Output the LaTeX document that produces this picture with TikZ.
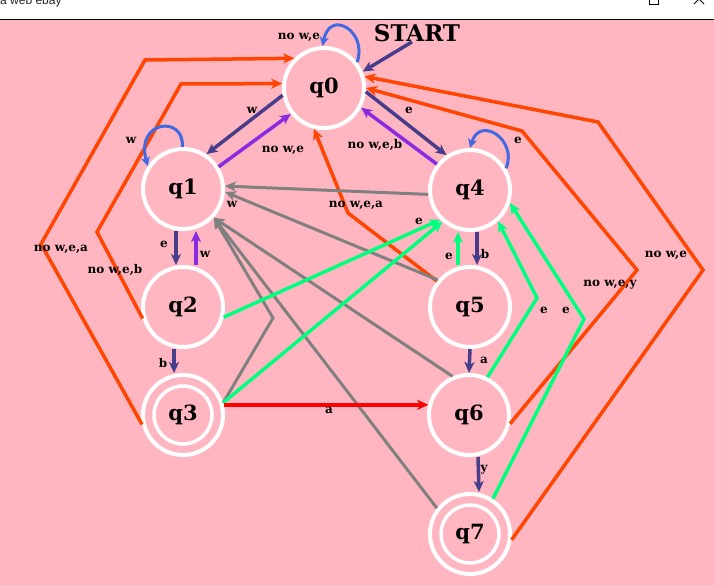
\documentclass[tikz,border=0pt]{standalone}
\usepackage{fontspec}
\setmainfont{DejaVu Serif}
\newfontfamily\titlefont{Liberation Sans}
\usetikzlibrary{arrows.meta}
\definecolor{bgpink}{HTML}{FFB6C1}
\definecolor{orr}{HTML}{FF4500}
\definecolor{dsb}{HTML}{483D8B}
\definecolor{bv}{HTML}{8A2BE2}
\definecolor{rb}{HTML}{4169E1}
\definecolor{sg}{HTML}{00FF7F}
\definecolor{gr}{HTML}{808080}
\definecolor{rd}{HTML}{FF0000}
\tikzset{
  state/.style={circle, draw=white, line width=4pt, minimum size=80pt, inner sep=0pt,
    font=\bfseries\fontsize{21}{21}\selectfont},
  lbl/.style={font=\bfseries\fontsize{12}{12}\selectfont, inner sep=0pt, text=black},
  tip/.style={-{Stealth[length=11pt,width=10pt,inset=3pt]}},
  darr/.style={tip, dsb, line width=3.5pt},
  varr/.style={tip, bv, line width=3.5pt},
  oarr/.style={tip, orr, line width=3.5pt, line join=miter},
  garr/.style={tip, sg, line width=3.5pt, line join=miter},
  gyarr/.style={tip, gr, line width=3pt, line join=miter},
  rarr/.style={tip, rd, line width=3.5pt},
  larr/.style={-{Stealth[length=9pt,width=9pt,inset=2.5pt]}, rb, line width=3pt},
}
\begin{document}
\begin{tikzpicture}[x=1pt,y=-1pt]
\useasboundingbox (0,0) rectangle (714,585);
\clip (0,0) rectangle (714,585);
% window frame
\fill[white] (0,0) rectangle (714,19);
\fill[bgpink] (0,19) rectangle (714,585);
\draw[black, line width=1pt] (0,19.5) -- (714,19.5);
\node[anchor=base west, inner sep=0pt, font=\titlefont\fontsize{12}{12}\selectfont, text=black!85] (title) at (0,5) {a web ebay};
\draw[black, line width=0.8pt] (649,-6) rectangle (658,4);
\draw[black, line width=0.8pt] (694,-6) -- (704,4) (704,-6) -- (694,4);

% states
\node[state] (q0) at (324,88) {q0};
\node[state] (q1) at (183,189) {q1};
\node[state] (q2) at (183,307) {q2};
\node[state] (q3) at (183,415) {q3};
\node[state] (q4) at (470,190) {q4};
\node[state] (q5) at (470,307) {q5};
\node[state] (q6) at (469,415) {q6};
\node[state] (q7) at (470,534) {q7};
\draw[white, line width=3.5pt] (q3.center) circle[radius=29pt];
\draw[white, line width=3.5pt] (q7.center) circle[radius=29pt];
\node[font=\bfseries\fontsize{23}{23}\selectfont, inner sep=0pt] (start) at (417,33) {START};

% start arrow
\draw[darr] ([xshift=-5pt]start.south) -- (q0.23);

% orange edges
\draw[oarr] (q3.193) -- (41,244) -- (145,60) -- (q0.135);
\draw[oarr] (q2.196) -- (97,232) -- (181,84) -- (q0.174);
\draw[oarr] (q5.142) -- (348,213) -- (q0.256);
\draw[oarr] (q6.-12) -- (637,270) -- (522,131) -- (q0.0);
\draw[oarr] (q7.-8) -- (703,270) -- (598,122) -- (q0.16);

% gray edges
\draw[gyarr] (q4.186) -- (q1.4);
\draw[gyarr] (q5.140) -- (q1.-4);
\draw[gyarr] (q6.113) -- (q1.-43);
\draw[gyarr] (q7.142) -- (q1.-43);
\draw[gyarr] (q3.17) -- (273,318) -- (q1.-43);

% green edges
\draw[garr] (q2.-14) -- (q4.225);
\draw[garr] (q3.17) -- (q4.229);
\draw[garr] (q6.64) -- (537,298) -- (q4.-48);
\draw[garr] (q7.57) -- (584,319) -- (q4.-18);
\draw[garr] ([xshift=-12pt]q5.north) -- ([xshift=-12pt]q4.south);

% red edge
\draw[rarr] (q3.14) -- (q6.166);

% dark slate blue edges
\draw[darr] (q0.190) -- (q1.56);
\draw[darr] (q0.-5) -- (q4.124);
\draw[darr] ([xshift=-7pt]q1.south) -- ([xshift=-7pt]q2.north);
\draw[darr] ([xshift=-9pt]q2.south) -- ([xshift=-9pt]q3.north);
\draw[darr] ([xshift=7pt]q4.south) -- ([xshift=7pt]q5.north);
\draw[darr] (q5.south) -- (q6.north);
\draw[darr] ([xshift=9pt]q6.south) -- ([xshift=9pt]q7.north);

% blue violet edges
\draw[varr] (q1.32) -- (q0.218);
\draw[varr] (q4.142) -- (q0.-28);
\draw[varr] ([xshift=13pt]q2.north) -- ([xshift=13pt]q1.south);

% self loops
\draw[larr] (q0.38) .. controls (368,32) and (330,8) .. (q0.92);
\draw[larr] (q4.31) .. controls (518,140) and (480,115) .. (q4.90);
\draw[larr] (q1.91) .. controls (185,115) and (135,120) .. (q1.147);

% labels
\node[lbl] (l01) at (299,37) {no w,e};
\node[lbl] (l02) at (252,110) {w};
\node[lbl] (l03) at (283,150) {no w,e};
\node[lbl] (l04) at (409,110) {e};
\node[lbl] (l05) at (375,145) {no w,e,b};
\node[lbl] (l06) at (518,140) {e};
\node[lbl] (l07) at (131,140) {w};
\node[lbl] (l08) at (164,244) {e};
\node[lbl] (l09) at (205,254) {w};
\node[lbl] (l10) at (163,363) {b};
\node[lbl] (l11) at (232,204) {w};
\node[lbl] (l12) at (61,249) {no w,e,a};
\node[lbl] (l13) at (115,270) {no w,e,b};
\node[lbl] (l14) at (356,205) {no w,e,a};
\node[lbl] (l15) at (419,221) {e};
\node[lbl] (l16) at (449,256) {e};
\node[lbl] (l17) at (485,254) {b};
\node[lbl] (l18) at (484,360) {a};
\node[lbl] (l19) at (484,470) {y};
\node[lbl] (l20) at (329,410) {a};
\node[lbl] (l21) at (544,310) {e};
\node[lbl] (l22) at (566,310) {e};
\node[lbl] (l23) at (610,285) {no w,e,y};
\node[lbl] (l24) at (666,255) {no w,e};
\end{tikzpicture}
\end{document}
